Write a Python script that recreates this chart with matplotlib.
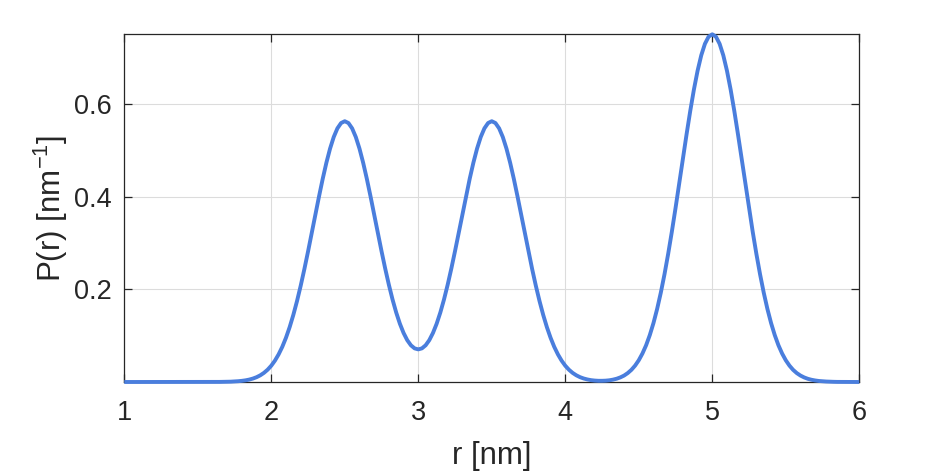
import matplotlib
matplotlib.use("Agg")
import matplotlib.pyplot as plt

plt.rcParams['font.family'] = ['Liberation Sans', 'DejaVu Sans']

# distance axis r [nm] and distribution P(r) [nm^-1]
r = [1.000, 1.500, 1.600, 1.650,
     1.700, 1.725, 1.750, 1.775, 1.800, 1.825, 1.850, 1.875, 1.900, 1.925,
     1.950, 1.975, 2.000, 2.025, 2.050, 2.075, 2.100, 2.125, 2.150, 2.175,
     2.200, 2.225, 2.250, 2.275, 2.300, 2.325, 2.350, 2.375, 2.400, 2.425,
     2.450, 2.475, 2.500, 2.525, 2.550, 2.575, 2.600, 2.625, 2.650, 2.675,
     2.700, 2.725, 2.750, 2.775, 2.800, 2.825, 2.850, 2.875, 2.900, 2.925,
     2.950, 2.975, 3.000, 3.025, 3.050, 3.075, 3.100, 3.125, 3.150, 3.175,
     3.200, 3.225, 3.250, 3.275, 3.300, 3.325, 3.350, 3.375, 3.400, 3.425,
     3.450, 3.475, 3.500, 3.525, 3.550, 3.575, 3.600, 3.625, 3.650, 3.675,
     3.700, 3.725, 3.750, 3.775, 3.800, 3.825, 3.850, 3.875, 3.900, 3.925,
     3.950, 3.975, 4.000, 4.025, 4.050, 4.075, 4.100, 4.125, 4.150, 4.175,
     4.200, 4.225, 4.250, 4.275, 4.300, 4.325, 4.350, 4.375, 4.400, 4.425,
     4.450, 4.475, 4.500, 4.525, 4.550, 4.575, 4.600, 4.625, 4.650, 4.675,
     4.700, 4.725, 4.750, 4.775, 4.800, 4.825, 4.850, 4.875, 4.900, 4.925,
     4.950, 4.975, 5.000, 5.025, 5.050, 5.075, 5.100, 5.125, 5.150, 5.175,
     5.200, 5.225, 5.250, 5.275, 5.300, 5.325, 5.350, 5.375, 5.400, 5.425,
     5.450, 5.475, 5.500, 5.525, 5.550, 5.575, 5.600, 5.625, 5.650, 5.675,
     5.700, 5.725, 5.750, 5.775, 5.800, 5.825, 5.850, 5.900, 6.000]

P = [0.0000, 0.0000, 0.0001, 0.0002,
     0.0005, 0.0007, 0.0011, 0.0017, 0.0025, 0.0036, 0.0052, 0.0074, 0.0104, 0.0144,
     0.0197, 0.0265, 0.0352, 0.0462, 0.0597, 0.0760, 0.0956, 0.1185, 0.1449, 0.1747,
     0.2078, 0.2437, 0.2818, 0.3215, 0.3617, 0.4013, 0.4392, 0.4740, 0.5045, 0.5296,
     0.5483, 0.5598, 0.5637, 0.5598, 0.5483, 0.5296, 0.5046, 0.4741, 0.4394, 0.4016,
     0.3622, 0.3222, 0.2829, 0.2453, 0.2102, 0.1783, 0.1501, 0.1259, 0.1060, 0.0904,
     0.0793, 0.0727, 0.0705, 0.0727, 0.0793, 0.0904, 0.1060, 0.1259, 0.1501, 0.1783,
     0.2102, 0.2453, 0.2829, 0.3222, 0.3622, 0.4016, 0.4394, 0.4741, 0.5046, 0.5296,
     0.5483, 0.5598, 0.5637, 0.5598, 0.5483, 0.5296, 0.5045, 0.4740, 0.4392, 0.4013,
     0.3617, 0.3215, 0.2818, 0.2437, 0.2078, 0.1747, 0.1449, 0.1185, 0.0956, 0.0760,
     0.0597, 0.0462, 0.0352, 0.0265, 0.0197, 0.0145, 0.0105, 0.0076, 0.0055, 0.0040,
     0.0031, 0.0026, 0.0026, 0.0029, 0.0037, 0.0051, 0.0071, 0.0100, 0.0139, 0.0193,
     0.0263, 0.0354, 0.0470, 0.0616, 0.0795, 0.1014, 0.1274, 0.1580, 0.1932, 0.2329,
     0.2770, 0.3249, 0.3758, 0.4287, 0.4823, 0.5351, 0.5856, 0.6320, 0.6727, 0.7061,
     0.7310, 0.7464, 0.7516, 0.7464, 0.7310, 0.7061, 0.6727, 0.6320, 0.5856, 0.5351,
     0.4823, 0.4287, 0.3758, 0.3249, 0.2770, 0.2329, 0.1932, 0.1580, 0.1274, 0.1014,
     0.0795, 0.0616, 0.0470, 0.0354, 0.0262, 0.0192, 0.0139, 0.0099, 0.0069, 0.0048,
     0.0033, 0.0022, 0.0015, 0.0010, 0.0006, 0.0004, 0.0002, 0.0001, 0.0000]

x_ticks = [1, 2, 3, 4, 5, 6]
y_ticks = [0.2, 0.4, 0.6]
y_tick_labels = ['0.2', '0.4', '0.6']

text_color = '#262626'
line_color = '#4A7EDD'

fig = plt.figure(figsize=(9.5, 4.73), dpi=100)
ax = fig.add_axes([0.1308, 0.1924, 0.7737, 0.7351])

ax.plot(r, P, color=line_color, linewidth=2.8, solid_capstyle='butt', clip_on=False, zorder=3)

ax.set_xlim(min(r), max(r))
ax.set_ylim(min(P), max(P))
ax.set_xticks(x_ticks)
ax.set_xticklabels([str(t) for t in x_ticks])
ax.set_yticks(y_ticks)
ax.set_yticklabels(y_tick_labels)

ax.grid(True, color='#dcdcdc', linewidth=0.8)
ax.set_axisbelow(True)

for s in ax.spines.values():
    s.set_color(text_color)
    s.set_linewidth(0.9)

ax.tick_params(axis='both', which='both', direction='in', length=5.5, width=0.9,
               color=text_color, labelcolor=text_color, labelsize=19.5,
               top=True, right=True)
ax.tick_params(axis='x', pad=13)
ax.tick_params(axis='y', pad=9)

ax.set_xlabel('r [nm]', fontsize=22.5, color=text_color, labelpad=11)
ax.set_ylabel(r'P(r) [nm$^{\mathregular{-1}}$]', fontsize=22.5, color=text_color, labelpad=3)

fig.savefig('out.png', dpi=100, facecolor='white')
